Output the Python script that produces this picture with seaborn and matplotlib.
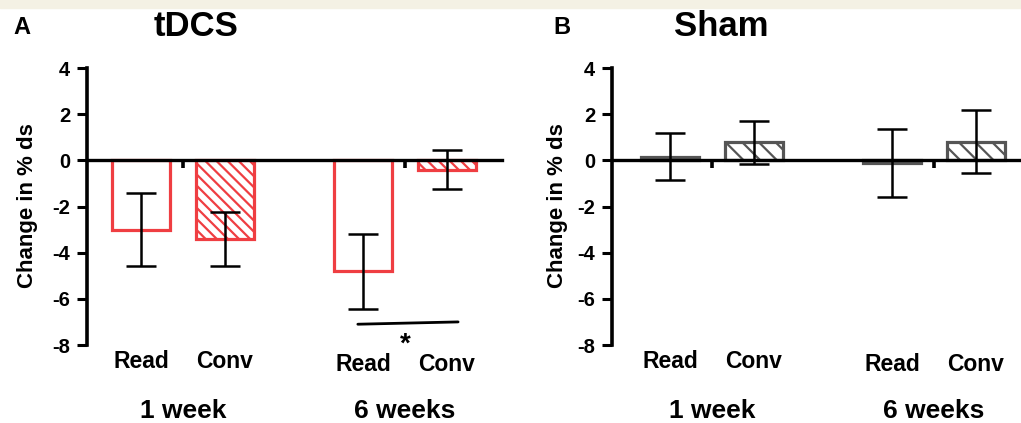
import numpy as np
import pandas as pd
import matplotlib.pyplot as plt
import seaborn as sns
from matplotlib.patches import Rectangle

# Datos (orden: Read 1 wk, Conv 1 wk, Read 6 wk, Conv 6 wk)
weeks = ['1 week', '6 weeks']
tasks = ['Read', 'Conv']
tdcs_mean = [-3.0, -3.4, -4.8, -0.4]
tdcs_sem = [1.57, 1.16, 1.63, 0.86]
sham_mean = [0.15, 0.78, -0.12, 0.8]
sham_sem = [1.02, 0.93, 1.47, 1.37]

sns.set_style('ticks')
plt.rcParams['font.family'] = ['Liberation Sans', 'DejaVu Sans']
plt.rcParams['font.weight'] = 'bold'
plt.rcParams['axes.unicode_minus'] = False
plt.rcParams['hatch.linewidth'] = 1.6
for k in ['text.color', 'axes.edgecolor', 'axes.labelcolor', 'xtick.color', 'ytick.color']:
    plt.rcParams[k] = 'black'

W, H = 1021, 423
fig = plt.figure(figsize=(W / 100, H / 100), dpi=100)
fig.patches.append(Rectangle((0, 1 - 8 / H), 1, 8 / H, transform=fig.transFigure,
                             color='#f4f1e4', zorder=0))


def px(x, y):
    return x / W, 1 - y / H


def panel(rect, means, sems, color, hatch, xlim, letter, letter_x, title, title_x, ylab_x, sig=False):
    ax = fig.add_axes(rect)
    df = pd.DataFrame({
        'week': [w for w in weeks for _ in tasks],
        'task': [t for _ in weeks for t in tasks],
        'value': means,
    })
    sns.barplot(data=df, x='week', y='value', hue='task', order=weeks, hue_order=tasks,
                palette={t: color for t in tasks}, fill=False, linewidth=2.3,
                width=0.757, gap=0.31, errorbar=None, legend=False, ax=ax)
    bars = sorted(ax.patches, key=lambda p: p.get_x())
    xs = [p.get_x() + p.get_width() / 2 for p in bars]
    for i, p in enumerate(bars):
        if i % 2 == 1:
            p.set_hatch(hatch)
    ax.errorbar(xs, means, yerr=sems, fmt='none', ecolor='black', elinewidth=1.8,
                capsize=10.5, capthick=1.8, zorder=5)

    ax.set_ylim(-8, 4)
    ax.set_xlim(*xlim)
    ax.set_yticks(range(-8, 5, 2))
    ax.set_xticks([0, 1])
    ax.set_xticklabels(['', ''])
    ax.set_xlabel('')
    ax.set_ylabel('')
    sns.despine(ax=ax)
    ax.spines['bottom'].set_position(('data', 0))
    ax.spines['bottom'].set_linewidth(2.4)
    ax.spines['bottom'].set_zorder(4)
    ax.spines['left'].set_linewidth(2.6)
    ax.tick_params(axis='y', length=7, width=2.2, labelsize=14.5, pad=5)
    ax.tick_params(axis='x', length=6, width=2.6)
    for lab in ax.get_yticklabels():
        lab.set_fontweight('bold')

    # etiquetas de tarea y de semana
    for i, x in enumerate(xs):
        y = -8.7 if i < 2 else -8.85
        ax.text(x, y, tasks[i % 2], ha='center', va='center', fontsize=16.5,
                fontweight='bold', clip_on=False)
    for g, w in enumerate(weeks):
        ax.text(g, -10.85, w, ha='center', va='center', fontsize=19,
                fontweight='bold', clip_on=False)

    if sig:
        ax.plot([xs[2] - 0.023, xs[3] + 0.05], [-7.1, -7.0], color='black', lw=2, clip_on=False)
        ax.text((xs[2] + xs[3]) / 2, -8.0, '*', ha='center', va='center', fontsize=20,
                fontweight='bold', clip_on=False)

    fig.text(*px(letter_x, 27), letter, ha='center', va='center', fontsize=17, fontweight='bold')
    fig.text(*px(title_x, 27), title, ha='center', va='center', fontsize=25, fontweight='bold')
    fig.text(*px(ylab_x, 206), 'Change in % ds', rotation=90, ha='center', va='center',
             fontsize=16, fontweight='bold')
    return ax


bottom = (H - 345) / H
height = 277 / H
panel([87 / W, bottom, 415 / W, height], tdcs_mean, tdcs_sem, '#ef3e42', '\\\\\\',
      (-0.432, 1.437), 'A', 22, 'tDCS', 196, 28, sig=True)
panel([612 / W, bottom, 409 / W, height], sham_mean, sham_sem, '#555555', '\\\\',
      (-0.45, 1.392), 'B', 562, 'Sham', 721, 558)

fig.savefig('out.png', dpi=100)
